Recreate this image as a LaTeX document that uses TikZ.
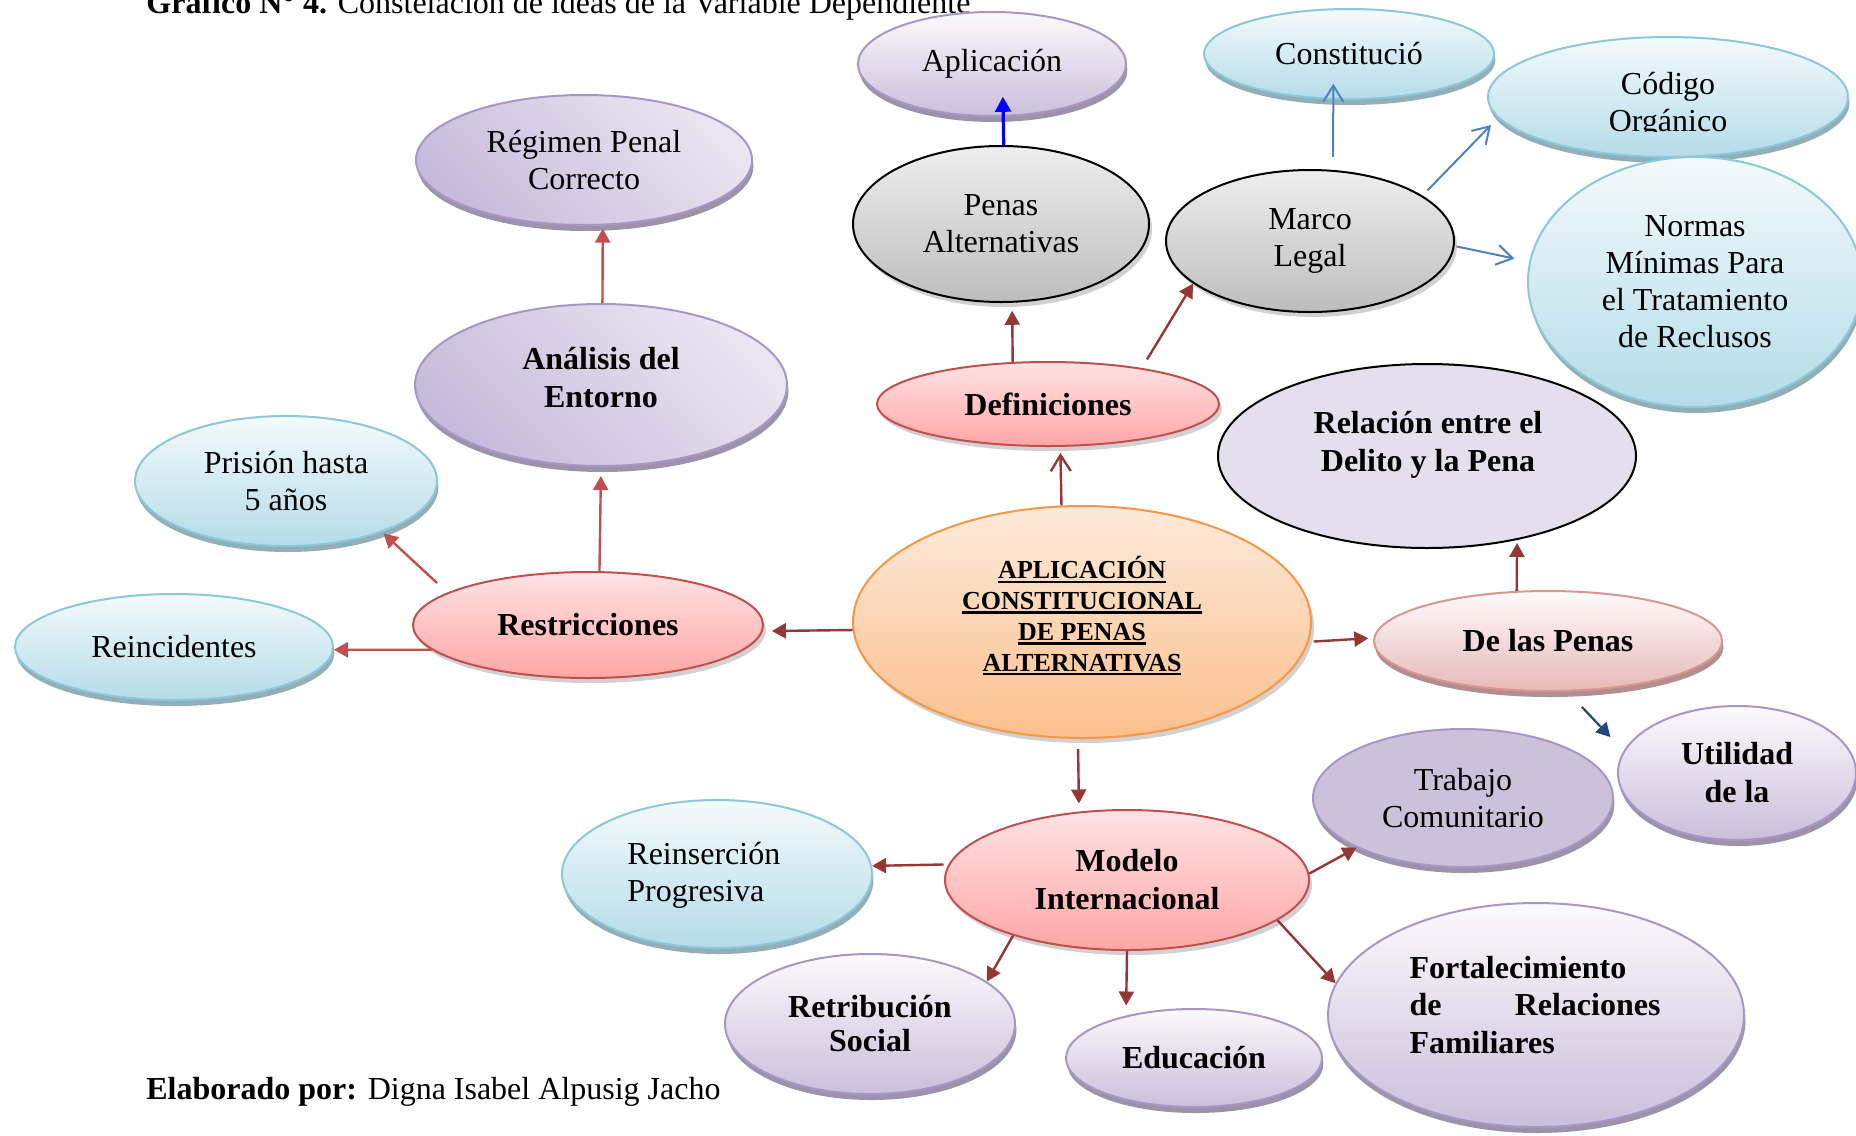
\documentclass[tikz,border=0pt]{standalone}
\usepackage{fontspec}
\setmainfont{Liberation Serif}
\usetikzlibrary{shapes.geometric,arrows.meta,shadows,calc}

\definecolor{bluetop}{HTML}{F4FAFC}
\definecolor{bluebot}{HTML}{B4DCE8}
\definecolor{blueline}{HTML}{8CC8D8}
\definecolor{bluerim}{HTML}{92AEB8}
\definecolor{lavtop}{HTML}{FBFAFC}
\definecolor{lavbot}{HTML}{CBBEDB}
\definecolor{lavline}{HTML}{A797C7}
\definecolor{lavrim}{HTML}{9C93AB}
\definecolor{lavdark}{HTML}{C8BADA}
\definecolor{lavlight}{HTML}{EAE6F1}
\definecolor{pinktop}{HTML}{FFE3E3}
\definecolor{pinkbot}{HTML}{FFA6A6}
\definecolor{pinkline}{HTML}{C0504D}
\definecolor{dlptop}{HTML}{FFFBFB}
\definecolor{dlpbot}{HTML}{E6B9B8}
\definecolor{dlpline}{HTML}{D99694}
\definecolor{dlprim}{HTML}{B18F8E}
\definecolor{graytop}{HTML}{EEEEEE}
\definecolor{graybot}{HTML}{BDBDBD}
\definecolor{orgtop}{HTML}{FDEADA}
\definecolor{orgbot}{HTML}{FBC08D}
\definecolor{orgline}{HTML}{F79646}
\definecolor{relfill}{HTML}{E4DFEC}
\definecolor{trabfill}{HTML}{CCC0DA}
\definecolor{darkred}{HTML}{953735}
\definecolor{midred}{HTML}{C0504D}
\definecolor{steelblue}{HTML}{4F81BD}
\definecolor{navy}{HTML}{1F497D}
\definecolor{pureblue}{HTML}{0000FF}

% thick underline for the central title
\newcommand\thickuline[1]{\setbox0\hbox{#1}\rlap{\vrule width\wd0 height -0.8pt depth 2pt}\box0}

\begin{document}
\begin{tikzpicture}[x=0.5pt,y=-0.5pt,
  sz/.style 2 args={minimum width=#1pt,minimum height=#2pt},
  base/.style={ellipse,inner sep=0pt,align=center,line width=1pt,
    font=\fontsize{16}{18.5}\selectfont},
  txt/.style={inner sep=0pt,align=center,font=\fontsize{16}{18.5}\selectfont},
  rim/.style={drop shadow={shadow xshift=0.7pt,shadow yshift=-3pt,fill=#1,opacity=1}},
  soft/.style={drop shadow={shadow xshift=1.5pt,shadow yshift=-2.5pt,fill=black,opacity=0.18}},
  bluenode/.style={base,draw=blueline,top color=bluetop,bottom color=bluebot,rim=bluerim},
  lavnode/.style={base,draw=lavline,top color=lavtop,bottom color=lavbot,rim=lavrim},
  lavdiag/.style={base,draw=lavline,top color=lavlight,bottom color=lavdark,shading angle=-45,rim=lavrim},
  pinknode/.style={base,draw=pinkline,top color=pinktop,bottom color=pinkbot,soft},
  dlpnode/.style={base,draw=dlpline,top color=dlptop,bottom color=dlpbot,rim=dlprim},
  graynode/.style={base,draw=black,top color=graytop,bottom color=graybot,soft},
  orgnode/.style={base,draw=orgline,top color=orgtop,bottom color=orgbot,soft},
  relnode/.style={base,draw=black,fill=relfill},
  trabnode/.style={base,draw=lavline,fill=trabfill,rim=lavrim},
  tipfill/.style={-{Triangle[length=7pt,width=7.5pt]}},
  tipopen/.style={-{Straight Barb[length=8pt,width=10pt]}},
  redA/.style={draw=darkred,line width=1.2pt,tipfill},
  redB/.style={draw=midred,line width=1.2pt,tipfill},
  redO/.style={draw=darkred,line width=1.2pt,tipopen},
  blueO/.style={draw=steelblue,line width=1pt,tipopen},
  blueA/.style={draw=pureblue,line width=1.6pt,-{Triangle[length=7.5pt,width=8pt]}},
  navyA/.style={draw=navy,line width=1.1pt,tipfill}]

\useasboundingbox (0,0) rectangle (1856,1135);
\fill[white] (0,0) rectangle (1856,1135);

% heading and credit
\node[anchor=base west,inner sep=0pt,font=\fontsize{16}{18.5}\selectfont] (title) at (146,13)
  {\textbf{Gráfico N° 4.} Constelación de ideas de la Variable Dependiente};
\node[anchor=base west,inner sep=0pt,font=\fontsize{16}{18.5}\selectfont] (credit) at (146,1099)
  {\textbf{Elaborado por:} Digna Isabel Alpusig Jacho};

% upper branch
\node[lavnode,sz={134}{52}] (aplic) at (992,64) {Aplicación};
\node[lavdiag,sz={168}{65}] (regimen) at (584,160) {Régimen Penal\\Correcto};
\node[bluenode,sz={145}{45}] (const) at (1349,54) {Constitució};
\node[bluenode,sz={180}{60}] (codigo) at (1668,97) {};
% the text area of this bubble cuts its second line short
\begin{scope}
  \clip (1480,0) rectangle (1856,131);
  \node[txt] (codigoT) at (1668,105) {Código\\Orgánico};
\end{scope}
\node[bluenode,sz={167}{125}] (normas) at (1695,282) {Normas\\Mínimas Para\\el Tratamiento\\de Reclusos};
\node[graynode,sz={148}{78}] (penas) at (1001,224) {Penas\\Alternativas};
\node[graynode,sz={144}{71}] (marco) at (1310,241) {Marco\\Legal};
\node[lavdiag,sz={186}{81}] (anal) at (601,385) {};
\node[txt,font=\bfseries\fontsize{16}{19}\selectfont] (analT) at (601,378) {Análisis del\\Entorno};
\node[pinknode,sz={171}{42},font=\bfseries\fontsize{16}{18.5}\selectfont] (def) at (1048,404) {Definiciones};
\node[relnode,sz={209}{92}] (rel) at (1427,456) {};
\node[txt,font=\bfseries\fontsize{16}{19}\selectfont] (relT) at (1428,445) {Relación entre el\\Delito y la Pena};

% middle row
\node[bluenode,sz={151}{65}] (prision) at (286,481) {Prisión hasta\\5 años};
\node[orgnode,sz={229}{116}] (central) at (1082,622) {};
\node[txt,font=\bfseries\fontsize{13}{15.4}\selectfont] (centralT) at (1082,616)
  {\thickuline{APLICACIÓN}\\\thickuline{CONSTITUCIONAL}\\\thickuline{DE PENAS}\\\thickuline{ALTERNATIVAS}};
\node[pinknode,sz={175}{53},font=\bfseries\fontsize{16}{18.5}\selectfont] (restr) at (588,625) {Restricciones};
\node[bluenode,sz={159}{53}] (reinc) at (174,647) {Reincidentes};
\node[dlpnode,sz={174}{50},font=\bfseries\fontsize{16}{18.5}\selectfont] (dlp) at (1548,641) {De las Penas};

% lower branch
\node[lavnode,sz={119}{67},font=\bfseries\fontsize{16}{19}\selectfont] (util) at (1737,773) {Utilidad\\de la};
\node[trabnode,sz={150}{69}] (trabajo) at (1463,798) {Trabajo\\Comunitario};
\node[bluenode,sz={155}{74}] (reins) at (717,874) {};
\node[txt,anchor=west,align=left] (reinsT) at (627,875) {Reinserción\\Progresiva};
\node[pinknode,sz={182}{70},font=\bfseries\fontsize{16}{19}\selectfont] (modelo) at (1127,880) {Modelo\\Internacional};
\node[lavnode,sz={145}{70},font=\bfseries\fontsize{16}{17}\selectfont] (retrib) at (870,1024) {Retribución\\Social};
\node[lavnode,sz={128}{49},font=\bfseries\fontsize{16}{18.5}\selectfont] (educ) at (1194,1058) {Educación};
\node[lavnode,sz={208}{112}] (fort) at (1536,1015) {};
\node[txt,align=left,font=\bfseries\fontsize{16}{18.7}\selectfont] (fortT) at (1535,1005)
  {Fortalecimiento\\\hbox to 125.5pt{de\hfill Relaciones}\\Familiares};

% connectors
\draw[redO,shorten >=3pt] (central.100) -- (def.286);
\draw[redA,shorten >=4pt] (def.130) -- (penas.278);
\draw[redA,shorten <=5pt] (def.21) -- (marco.200);
\draw[blueA,shorten >=-10pt] (penas.88) -- (aplic.282);
\draw[blueO,shorten <=6.5pt,shorten >=-8pt] (marco.72) -- (const.251);
\draw[blueO,shorten <=3.6pt,shorten >=5pt] (marco.22) -- (codigo.187);
\draw[blueO,shorten <=1pt,shorten >=7.5pt] (marco.358) -- (normas.173);
\draw[redA,shorten >=4.5pt] (central.182) -- (restr.358);
\draw[redB,shorten >=4.5pt] (restr.78) -- (anal.270);
\draw[redB,shorten >=1.5pt] (anal.89) -- (regimen.286);
\draw[redB,shorten <=7pt,shorten >=1pt] (restr.167) -- (prision.332);
\draw[redB] (restr.189) -- (reinc.359);
\draw[redA,shorten <=2.5pt,shorten >=2.5pt] (central.355.5) -- (dlp.179);
\draw[redA,shorten >=1.5pt] (dlp.122) -- (rel.317);
\draw[navyA,shorten <=10.5pt,shorten >=9.5pt] (dlp.291) -- (util.169);
\draw[redA,shorten <=5pt,shorten >=4pt] (central.268) -- (modelo.125);
\draw[redA,shorten <=2.5pt] (modelo.175) -- (reins.3);
\draw[redA] (modelo.2) -- (trabajo.205);
\draw[redA] (modelo.206) -- (retrib.20);
\draw[redA,shorten >=5pt] (modelo.270) -- (educ.148);
\draw[redA] (modelo.345) -- (fort.171);
\end{tikzpicture}
\end{document}
